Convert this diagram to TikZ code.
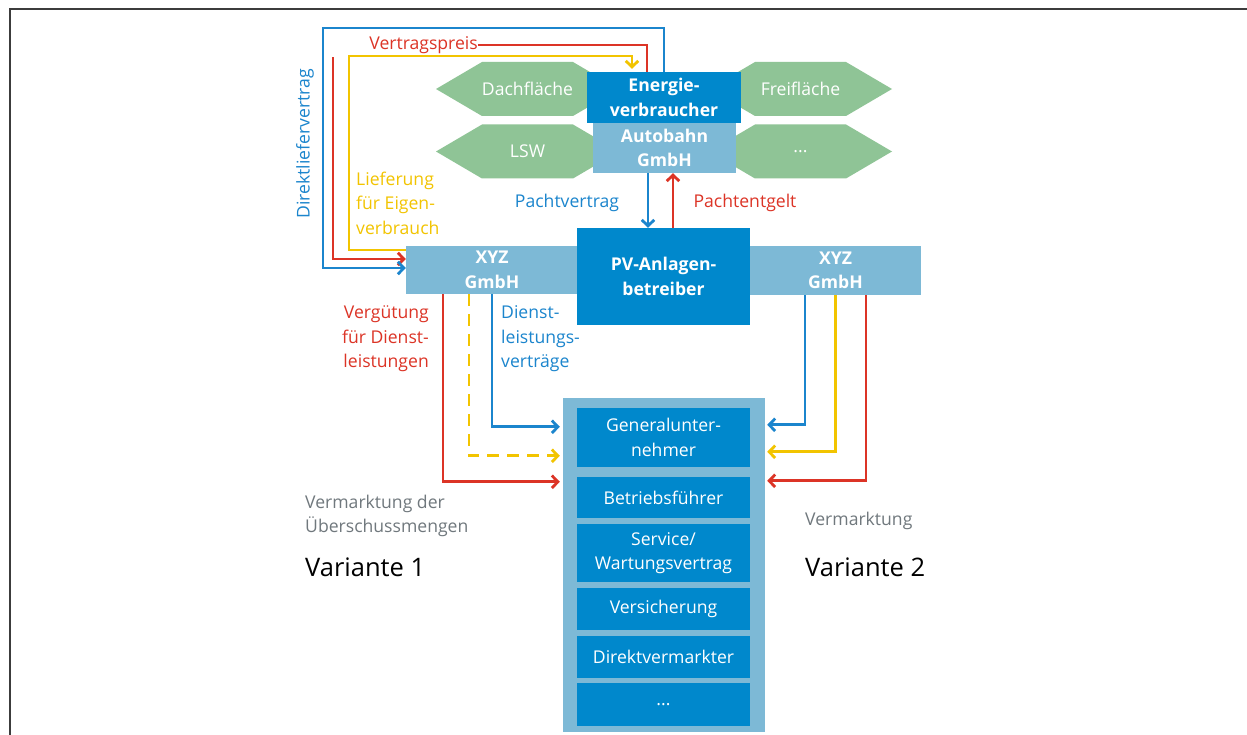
\documentclass[tikz,border=0pt]{standalone}
\usepackage{fontspec}
\setmainfont{Open Sans}
\usetikzlibrary{arrows.meta}

\definecolor{boxdark}{RGB}{0,136,204}
\definecolor{boxlight}{RGB}{125,185,214}
\definecolor{hexfill}{RGB}{143,196,150}
\definecolor{cblue}{RGB}{27,133,205}
\definecolor{cred}{RGB}{220,52,38}
\definecolor{cyellow}{RGB}{242,196,0}
\definecolor{cgray}{RGB}{112,120,125}
\definecolor{frame}{RGB}{60,60,60}

\newcommand\lblfont{\fontsize{17.6}{24.5}\selectfont}
\newcommand\bigfont{\fontsize{25.5}{30}\selectfont}

\begin{document}
\begin{tikzpicture}[x=1pt,y=-1pt,
  box/.style={inner sep=0pt, align=center, text=white, font=\lblfont\bfseries},
  darkbox/.style={box, fill=boxdark},
  lightbox/.style={box, fill=boxlight},
  item/.style={fill=boxdark, inner sep=0pt, align=center, text=white,
    font=\lblfont, minimum width=173pt},
  hextext/.style={text=white, font=\lblfont, inner sep=0pt},
  lbl/.style={font=\lblfont, inner sep=0pt},
  conn/.style={line width=2.8pt,
    -{Straight Barb[length=6pt,width=12.5pt,line width=2.8pt]}},
  hexa/.pic={\fill[hexfill] (-91.5,0) -- (-45.5,-27) -- (45.5,-27)
     -- (91.5,0) -- (45.5,27) -- (-45.5,27) -- cycle;}
]
\useasboundingbox (0,0) rectangle (1247,735);
\fill[white] (0,0) rectangle (1247,735);

% frame
\draw[frame, line width=2pt] (10,735) -- (10,9.5) -- (1247,9.5);

% site types
\pic at (527.5,89) {hexa};
\pic at (527.5,151.5) {hexa};
\pic at (800.5,89) {hexa};
\pic at (800.5,151.5) {hexa};
\node[hextext] (dach) at (527.5,89) {Dachfläche};
\node[hextext] (lsw) at (527.5,151.5) {LSW};
\node[hextext] (frei) at (800.5,89) {Freifläche};
\node[hextext] (more) at (800.5,151.5) {...};

% boxes
\node[lightbox, minimum width=143pt, minimum height=50pt] (ab) at (664.5,148) {Autobahn\\GmbH};
\node[darkbox, minimum width=154pt, minimum height=51pt] (ev) at (664,97.5) {Energie-\\verbraucher};
\node[lightbox, minimum width=172pt, minimum height=48pt] (xyzl) at (492,270) {XYZ\\GmbH};
\node[lightbox, minimum width=171pt, minimum height=49pt] (xyzr) at (835.5,270.5) {XYZ\\GmbH};
\node[darkbox, minimum width=173pt, minimum height=97pt] (pv) at (663.5,276.5) {PV-Anlagen-\\betreiber};

% service providers
\node[fill=boxlight, minimum width=202pt, minimum height=334pt, inner sep=0pt] (cont) at (664,565) {};
\node[item, minimum height=59pt] (gu) at (663.5,437.5) {Generalunter-\\nehmer};
\node[item, minimum height=41pt] (bf) at (663.5,497.5) {Betriebsführer};
\node[item, minimum height=58pt] (sw) at (663.5,553) {Service/\\Wartungsvertrag};
\node[item, minimum height=42pt] (vs) at (663.5,609) {Versicherung};
\node[item, minimum height=42pt] (dv) at (663.5,657) {Direktvermarkter};
\node[item, minimum height=43pt] (etc) at (663.5,704.5) {...};

% contracts with the energy consumer
\draw[conn, cred] ([xshift=-17pt]ev.north) |- (333,45) |- ([yshift=11pt]xyzl.west);
\node[lbl, text=cred, fill=white, text width=151pt, align=right,
  minimum height=24pt, anchor=east] (vp) at (478,45) {Vertragspreis};
\draw[conn, cyellow, shorten >=3pt] ([yshift=20pt]xyzl.west) -| (349,56) -| ([xshift=-32pt]ev.north);
\draw[conn, cblue] (ev.north) |- (323,28) |- ([yshift=2pt]xyzl.west);

% lease
\draw[conn, cblue] ([xshift=-16.5pt]ab.south) -- ([xshift=-15.5pt]pv.north);
\draw[conn, cred] ([xshift=9.5pt]pv.north) -- ([xshift=8.5pt]ab.south);

% service contracts, variant 1
\draw[conn, cred, shorten >=3pt] ([xshift=-49pt]xyzl.south) |- ([yshift=-84pt]cont.north west);
\draw[conn, cyellow, dash pattern=on 12pt off 8pt, shorten >=3pt] ([xshift=-23pt]xyzl.south) |- ([yshift=-58pt]cont.north west);
\draw[conn, cblue, shorten >=3pt] (xyzl.south) |- ([yshift=-29pt]cont.north west);

% service contracts, variant 2
\draw[conn, cblue, shorten >=2pt] ([xshift=-30.5pt]xyzr.south) |- ([yshift=-27pt]cont.north east);
\draw[conn, cyellow, shorten >=2pt] (xyzr.south) |- ([yshift=-54pt]cont.north east);
\draw[conn, cred, shorten >=2pt] ([xshift=30.5pt]xyzr.south) |- ([yshift=-83pt]cont.north east);

% labels
\node[lbl, text=cblue, rotate=90] (dlv) at (305,144) {Direktliefervertrag};
\node[lbl, text=cyellow, align=left, anchor=west] (lfe) at (356,203) {Lieferung\\für Eigen-\\verbrauch};
\node[lbl, text=cblue] (pvt) at (567,203) {Pachtvertrag};
\node[lbl, text=cred] (pe) at (745,203) {Pachtentgelt};
\node[lbl, text=cred, align=right, anchor=east] (vfd) at (429,339) {Vergütung\\für Dienst-\\leistungen};
\node[lbl, text=cblue, align=left, anchor=west] (dlvt) at (501,339) {Dienst-\\leistungs-\\verträge};
\node[lbl, text=cgray, align=left, anchor=west] (vdu) at (305,516) {Vermarktung der\\Überschussmengen};
\node[lbl, text=cgray, anchor=west] (vm) at (805,521) {Vermarktung};
\node[font=\bigfont, inner sep=0pt, anchor=west] (var1) at (305,567) {Variante 1};
\node[font=\bigfont, inner sep=0pt, anchor=west] (var2) at (805,567) {Variante 2};
\end{tikzpicture}
\end{document}
